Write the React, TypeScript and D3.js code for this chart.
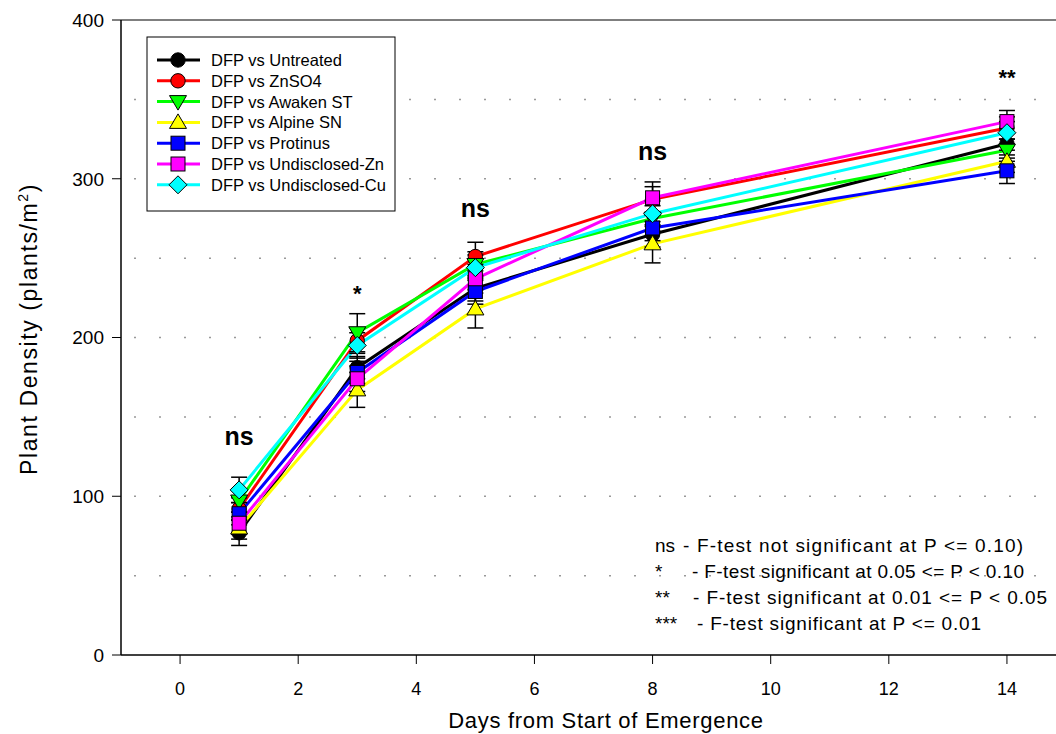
import React from "react";
import * as d3 from "d3";

const days = [1, 3, 5, 8, 14];
const seriesNames = [
  "DFP vs Untreated",
  "DFP vs ZnSO4",
  "DFP vs Awaken ST",
  "DFP vs Alpine SN",
  "DFP vs Protinus",
  "DFP vs Undisclosed-Zn",
  "DFP vs Undisclosed-Cu",
];
const seriesColors = ["#000000", "#ff0000", "#00ff00", "#ffff00", "#0000ff", "#ff00ff", "#00ffff"];
const seriesMarkers = ["circle", "circle", "triDown", "triUp", "square", "square", "diamond"];

const untreated = [77, 181, 231, 265, 322];
const znso4 = [92, 198, 251, 287, 332];
const awaken = [97, 203, 246, 275, 318];
const alpine = [80, 167, 218, 259, 311];
const protinus = [89, 178, 229, 269, 305];
const undisclosedZn = [83, 174, 237, 288, 336];
const undisclosedCu = [104, 195, 244, 278, 329];

const untreatedErr = [8, 7, 8, 8, 7];
const znso4Err = [7, 8, 9, 8, 7];
const awakenErr = [7, 12, 8, 8, 7];
const alpineErr = [7, 11, 12, 12, 7];
const protinusErr = [7, 7, 8, 8, 8];
const undisclosedZnErr = [7, 8, 9, 10, 7];
const undisclosedCuErr = [8, 8, 8, 8, 7];

const seriesValues = [untreated, znso4, awaken, alpine, protinus, undisclosedZn, undisclosedCu];
const seriesErrors = [untreatedErr, znso4Err, awakenErr, alpineErr, protinusErr, undisclosedZnErr, undisclosedCuErr];

const sigLabels = ["ns", "*", "ns", "ns", "**"];
const sigValues = [132, 223, 276, 312, 359];

const xTicks = [0, 2, 4, 6, 8, 10, 12, 14];
const yTicks = [0, 100, 200, 300, 400];
const gridValues = [50, 100, 150, 200, 250, 300, 350];

const noteKeys = ["ns", "*", "**", "***"];
const noteTexts = [
  "- F-test not significant at P <= 0.10)",
  "- F-test significant at 0.05 <= P < 0.10",
  "- F-test significant at 0.01 <= P < 0.05",
  "- F-test significant at P <= 0.01",
];
const noteStarts = [683, 692, 693, 697];
const noteLengths = [340, 332, 354, 284];

const FONT = "Arial, 'Liberation Sans', sans-serif";

function Marker({ type, x, y, color }: { type: string; x: number; y: number; color: string }) {
  const s = 9;
  if (type === "circle") return <circle cx={x} cy={y} r={7.2} fill={color} stroke="#000" strokeWidth={1} />;
  if (type === "square")
    return <rect x={x - 7} y={y - 7} width={14} height={14} fill={color} stroke="#000" strokeWidth={1} />;
  if (type === "triDown")
    return (
      <path d={`M${x - 8.5},${y - 6}L${x + 8.5},${y - 6}L${x},${y + 8.5}Z`} fill={color} stroke="#000" strokeWidth={1} />
    );
  if (type === "triUp")
    return (
      <path d={`M${x - 8.5},${y + 6}L${x + 8.5},${y + 6}L${x},${y - 8.5}Z`} fill={color} stroke="#000" strokeWidth={1} />
    );
  return (
    <path d={`M${x},${y - s}L${x + s},${y}L${x},${y + s}L${x - s},${y}Z`} fill={color} stroke="#000" strokeWidth={1} />
  );
}

export default function App() {
  const W = 1056;
  const H = 734;
  const x = d3.scaleLinear().domain([-1, 15]).range([121, 1066]);
  const y = d3.scaleLinear().domain([0, 400]).range([655, 20]);
  const line = d3
    .line<number>()
    .x((_, i) => x(days[i]))
    .y((v) => y(v));

  return (
    <svg width={W} height={H} style={{ position: "absolute", left: 0, top: 0, background: "#fff" }}>
      <rect x={0} y={0} width={W} height={H} fill="#fff" />
      {/* grid */}
      {gridValues.map((g) => (
        <line
          key={g}
          x1={x(-1) + 13}
          x2={W}
          y1={y(g)}
          y2={y(g)}
          stroke="#999"
          strokeWidth={1.5}
          strokeDasharray="2,23"
        />
      ))}
      {/* frame */}
      <line x1={x(-1)} x2={x(15)} y1={y(400)} y2={y(400)} stroke="#000" strokeWidth={1.2} />
      <line x1={x(-1)} x2={x(-1)} y1={y(400)} y2={y(0)} stroke="#000" strokeWidth={1.5} />
      <line x1={x(-1)} x2={x(15)} y1={y(0)} y2={y(0)} stroke="#000" strokeWidth={1.5} />
      {/* y ticks */}
      {yTicks.map((t) => (
        <g key={t}>
          <line x1={x(-1) - 9} x2={x(-1)} y1={y(t)} y2={y(t)} stroke="#000" strokeWidth={1} />
          <text x={x(-1) - 17} y={y(t)} dy="0.36em" textAnchor="end" fontFamily={FONT} fontSize={19}>
            {t}
          </text>
        </g>
      ))}
      {/* x ticks */}
      {xTicks.map((t) => (
        <g key={t}>
          <line x1={x(t)} x2={x(t)} y1={y(0)} y2={y(0) + 9} stroke="#000" strokeWidth={1} />
          <text x={x(t)} y={y(0) + 40} textAnchor="middle" fontFamily={FONT} fontSize={18}>
            {t}
          </text>
        </g>
      ))}
      <text x={606} y={728} textAnchor="middle" fontFamily={FONT} fontSize={22} letterSpacing={0.7}>
        Days from Start of Emergence
      </text>
      <text
        transform={`translate(37,${329}) rotate(-90)`}
        textAnchor="middle"
        fontFamily={FONT}
        fontSize={23}
        letterSpacing={1.6}
      >
        Plant Density (plants/m
        <tspan fontSize={14} dy={-9}>
          2
        </tspan>
        <tspan dy={9}>)</tspan>
      </text>
      {/* lines */}
      {seriesValues.map((vals, si) => (
        <path key={si} d={line(vals) || ""} fill="none" stroke={seriesColors[si]} strokeWidth={3} />
      ))}
      {/* error bars */}
      {seriesValues.map((vals, si) =>
        vals.map((v, i) => {
          const e = seriesErrors[si][i];
          const cx = x(days[i]);
          return (
            <g key={`${si}-${i}`} stroke="#000" strokeWidth={1.5}>
              <line x1={cx} x2={cx} y1={y(v + e)} y2={y(v - e)} />
              <line x1={cx - 8} x2={cx + 8} y1={y(v + e)} y2={y(v + e)} />
              <line x1={cx - 8} x2={cx + 8} y1={y(v - e)} y2={y(v - e)} />
            </g>
          );
        })
      )}
      {/* markers */}
      {seriesValues.map((vals, si) =>
        vals.map((v, i) => (
          <Marker key={`m${si}-${i}`} type={seriesMarkers[si]} x={x(days[i])} y={y(v)} color={seriesColors[si]} />
        ))
      )}
      {/* significance */}
      {sigLabels.map((s, i) => (
        <text
          key={i}
          x={x(days[i])}
          y={y(sigValues[i])}
          textAnchor="middle"
          fontFamily={FONT}
          fontWeight="bold"
          fontSize={s === "ns" ? 25 : 22}
        >
          {s}
        </text>
      ))}
      {/* legend */}
      <rect x={147} y={37} width={248} height={174} fill="#fff" stroke="#000" strokeWidth={1} />
      {seriesNames.map((n, i) => {
        const ly = 60 + i * 20.8;
        return (
          <g key={n}>
            <line x1={157} x2={200} y1={ly} y2={ly} stroke={seriesColors[i]} strokeWidth={3} />
            <Marker type={seriesMarkers[i]} x={178} y={ly} color={seriesColors[i]} />
            <text x={211} y={ly} dy="0.36em" fontFamily={FONT} fontSize={16.5}>
              {n}
            </text>
          </g>
        );
      })}
      {/* notes */}
      {noteKeys.map((k, i) => {
        const ny = 552 + i * 26;
        return (
          <g key={k} fontFamily={FONT} fontSize={19}>
            <text x={655} y={ny}>
              {k}
            </text>
            <text x={noteStarts[i]} y={ny} textLength={noteLengths[i]} lengthAdjust="spacing">
              {noteTexts[i]}
            </text>
          </g>
        );
      })}
    </svg>
  );
}
